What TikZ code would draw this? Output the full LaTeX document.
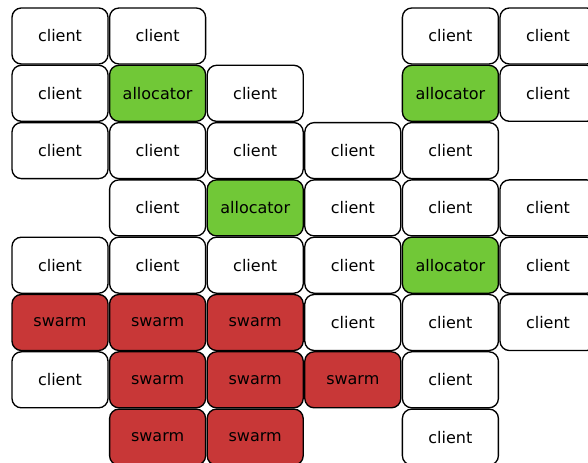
\documentclass[tikz,border=0pt]{standalone}
\usepackage{fontspec}
\setmainfont{DejaVu Sans}
\definecolor{allocgreen}{HTML}{71C837}
\definecolor{swarmred}{HTML}{C83737}

\begin{document}
\begin{tikzpicture}[x=73.2pt, y=-42.975pt]
 \tikzstyle{box}=[rectangle, rounded corners=7pt, draw, line width=1pt, minimum width=72pt, minimum height=42pt, inner sep=0pt, font=\fontsize{12}{14}\selectfont]
 \tikzstyle{client}=[box, fill=white]
 \tikzstyle{alloc}=[box, fill=allocgreen]
 \tikzstyle{swarm}=[box, fill=swarmred]

 \useasboundingbox (-0.6148, -0.6283) rectangle (5.4098, 7.452);

 % row 0
 \node[client] (c00) at (0,0) {client};
 \node[client] (c10) at (1,0) {client};
 \node[client] (c40) at (4,0) {client};
 \node[client] (c50) at (5,0) {client};

 % row 1
 \node[client] (c01) at (0,1) {client};
 \node[alloc]  (a11) at (1,1) {allocator};
 \node[client] (c21) at (2,1) {client};
 \node[alloc]  (a41) at (4,1) {allocator};
 \node[client] (c51) at (5,1) {client};

 % row 2
 \node[client] (c02) at (0,2) {client};
 \node[client] (c12) at (1,2) {client};
 \node[client] (c22) at (2,2) {client};
 \node[client] (c32) at (3,2) {client};
 \node[client] (c42) at (4,2) {client};

 % row 3
 \node[client] (c13) at (1,3) {client};
 \node[alloc]  (a23) at (2,3) {allocator};
 \node[client] (c33) at (3,3) {client};
 \node[client] (c43) at (4,3) {client};
 \node[client] (c53) at (5,3) {client};

 % row 4
 \node[client] (c04) at (0,4) {client};
 \node[client] (c14) at (1,4) {client};
 \node[client] (c24) at (2,4) {client};
 \node[client] (c34) at (3,4) {client};
 \node[alloc]  (a44) at (4,4) {allocator};
 \node[client] (c54) at (5,4) {client};

 % row 5
 \node[swarm]  (s05) at (0,5) {swarm};
 \node[swarm]  (s15) at (1,5) {swarm};
 \node[swarm]  (s25) at (2,5) {swarm};
 \node[client] (c35) at (3,5) {client};
 \node[client] (c45) at (4,5) {client};
 \node[client] (c55) at (5,5) {client};

 % row 6
 \node[client] (c06) at (0,6) {client};
 \node[swarm]  (s16) at (1,6) {swarm};
 \node[swarm]  (s26) at (2,6) {swarm};
 \node[swarm]  (s36) at (3,6) {swarm};
 \node[client] (c46) at (4,6) {client};

 % row 7
 \node[swarm]  (s17) at (1,7) {swarm};
 \node[swarm]  (s27) at (2,7) {swarm};
 \node[client] (c47) at (4,7) {client};
\end{tikzpicture}
\end{document}
